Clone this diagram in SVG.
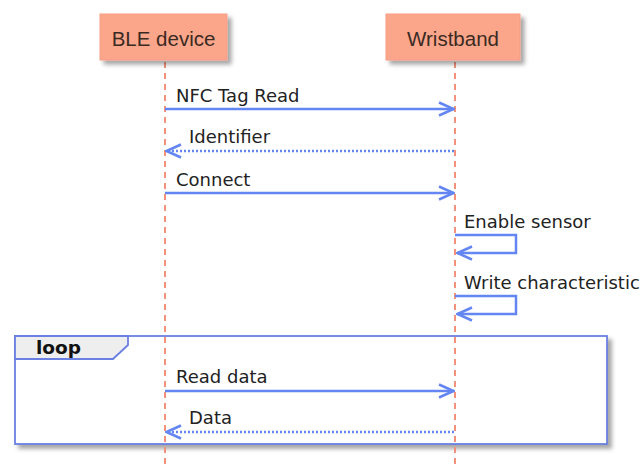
<svg xmlns="http://www.w3.org/2000/svg" width="643" height="464" viewBox="0 0 643 464">
<defs>
<filter id="sh" x="-10%" y="-10%" width="130%" height="140%">
<feDropShadow dx="4" dy="4" stdDeviation="2" flood-color="#000" flood-opacity="0.35"/>
</filter>
<marker id="open" viewBox="0 0 17 16" refX="16" refY="8" markerWidth="17" markerHeight="16" markerUnits="userSpaceOnUse" orient="auto">
<path d="M1,1.5 L15.5,8 L1,14.5" fill="none" stroke="#6486F3" stroke-width="2.5"/>
</marker>
</defs>
<style>
.part{fill:#FBA68B;stroke:#F79D85;stroke-width:1}
.ptxt{font-family:"Liberation Sans",Arial,sans-serif;font-size:20.5px;fill:#3a2a22;text-anchor:middle}
.life{stroke:#F3917A;stroke-width:2;stroke-dasharray:6,5;fill:none}
.msg{stroke:#6486F3;stroke-width:2.5;fill:none}
.dot{stroke:#6486F3;stroke-width:2.5;stroke-dasharray:2,2;fill:none}
.mtxt{font-family:"DejaVu Sans",Verdana,sans-serif;font-size:18px;fill:#222}
.loop{fill:#fff;stroke:#6A80E2;stroke-width:1.8}
.tab{fill:#EEEEEE;stroke:#6A80E2;stroke-width:1.8}
.ltxt{font-family:"DejaVu Sans",Verdana,sans-serif;font-size:18.5px;font-weight:bold;fill:#111}
</style>
<rect width="643" height="464" fill="#fff"/>
<g id="loop-frame">
<rect class="loop" x="15" y="336" width="592" height="108" filter="url(#sh)"/>
<polygon class="tab" points="15,336 128,336 128,345 113,359 15,359"/>
<text class="ltxt" x="36" y="354">loop</text>
</g>
<g id="lifelines">
<line class="life" x1="165" y1="62" x2="165" y2="464"/>
<line class="life" x1="455" y1="62" x2="455" y2="464"/>
</g>
<g id="ble-device">
<rect class="part" x="100" y="14" width="127" height="46" filter="url(#sh)"/>
<text class="ptxt" x="163.5" y="46">BLE device</text>
</g>
<g id="wristband">
<rect class="part" x="386" y="14" width="134" height="46" filter="url(#sh)"/>
<text class="ptxt" x="453" y="46">Wristband</text>
</g>
<g id="connectors">
<line class="msg" x1="165" y1="109" x2="454" y2="109" marker-end="url(#open)"/>
<text class="mtxt" x="176" y="102">NFC Tag Read</text>
<line class="dot" x1="454" y1="151" x2="166" y2="151" marker-end="url(#open)"/>
<text class="mtxt" x="189" y="143">Identifier</text>
<line class="msg" x1="165" y1="193" x2="454" y2="193" marker-end="url(#open)"/>
<text class="mtxt" x="176" y="186">Connect</text>
<polyline class="msg" points="455,235 516,235 516,253 457,253" marker-end="url(#open)"/>
<text class="mtxt" x="464" y="228">Enable sensor</text>
<polyline class="msg" points="455,296 516,296 516,314 457,314" marker-end="url(#open)"/>
<text class="mtxt" x="464" y="289">Write characteristic</text>
<line class="msg" x1="165" y1="391" x2="454" y2="391" marker-end="url(#open)"/>
<text class="mtxt" x="176" y="383">Read data</text>
<line class="dot" x1="454" y1="432" x2="166" y2="432" marker-end="url(#open)"/>
<text class="mtxt" x="189" y="424">Data</text>
</g>
</svg>
